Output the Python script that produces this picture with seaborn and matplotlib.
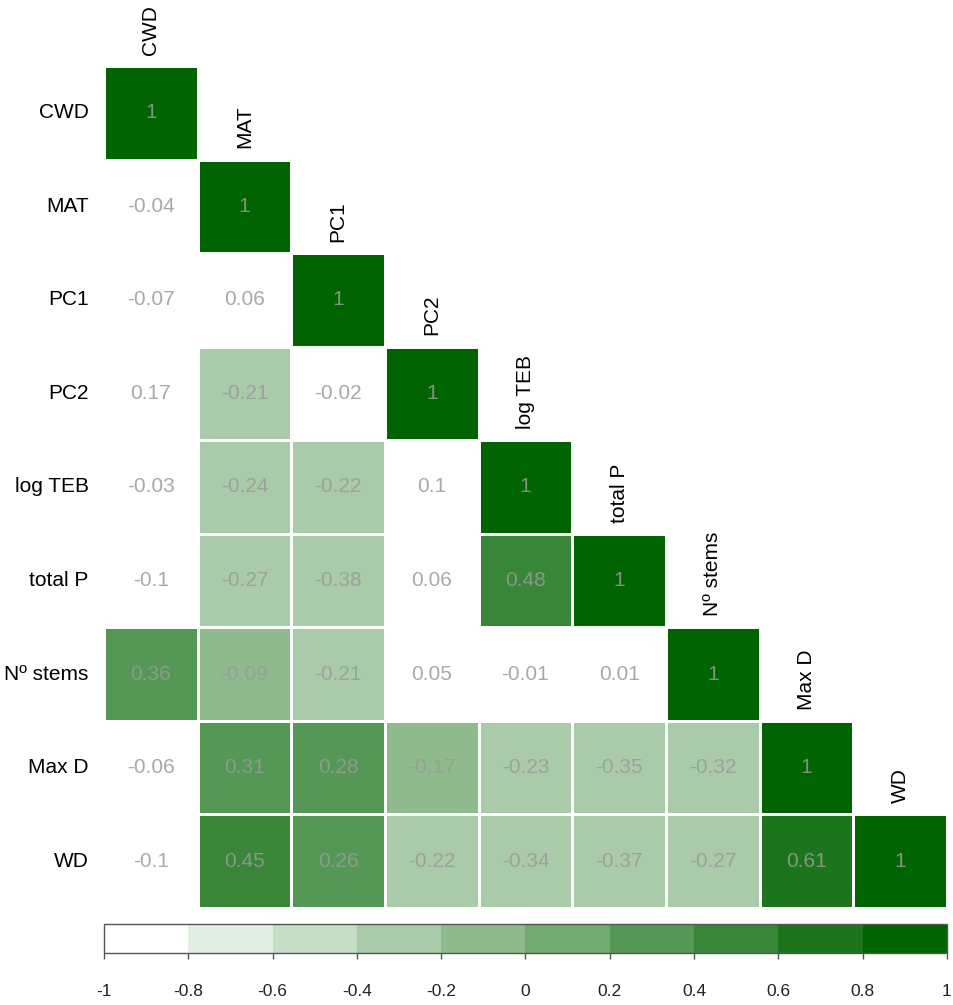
import numpy as np
import pandas as pd
import matplotlib
matplotlib.use("Agg")
import matplotlib.pyplot as plt
from matplotlib.colors import ListedColormap, to_rgb
import seaborn as sns

# Variables (rows/columns of the correlation matrix)
variables = ["CWD", "MAT", "PC1", "PC2", "log TEB", "total P", "Nº stems", "Max D", "WD"]

# Lower-triangle correlation coefficients, one list per row
row_cwd = [1]
row_mat = [-0.04, 1]
row_pc1 = [-0.07, 0.06, 1]
row_pc2 = [0.17, -0.21, -0.02, 1]
row_logteb = [-0.03, -0.24, -0.22, 0.1, 1]
row_totalp = [-0.1, -0.27, -0.38, 0.06, 0.48, 1]
row_nstems = [0.36, -0.09, -0.21, 0.05, -0.01, 0.01, 1]
row_maxd = [-0.06, 0.31, 0.28, -0.17, -0.23, -0.35, -0.32, 1]
row_wd = [-0.1, 0.45, 0.26, -0.22, -0.34, -0.37, -0.27, 0.61, 1]

# Significance flags (1 = significant, drawn with colour; 0 = left blank)
sig_cwd = [1]
sig_mat = [0, 1]
sig_pc1 = [0, 0, 1]
sig_pc2 = [0, 1, 0, 1]
sig_logteb = [0, 1, 1, 0, 1]
sig_totalp = [0, 1, 1, 0, 1, 1]
sig_nstems = [1, 1, 1, 0, 0, 0, 1]
sig_maxd = [0, 1, 1, 1, 1, 1, 1, 1]
sig_wd = [0, 1, 1, 1, 1, 1, 1, 1, 1]

rows = [row_cwd, row_mat, row_pc1, row_pc2, row_logteb, row_totalp,
        row_nstems, row_maxd, row_wd]
sigs = [sig_cwd, sig_mat, sig_pc1, sig_pc2, sig_logteb, sig_totalp,
        sig_nstems, sig_maxd, sig_wd]

n = len(variables)
corr = np.full((n, n), np.nan)
sig = np.zeros((n, n), dtype=bool)
for i, (r, s) in enumerate(zip(rows, sigs)):
    corr[i, :len(r)] = r
    sig[i, :len(s)] = np.array(s, dtype=bool)

corr_df = pd.DataFrame(corr, index=variables, columns=variables)
labels = np.vectorize(lambda v: "" if np.isnan(v) else f"{v:g}")(corr)

lower = np.tril(np.ones((n, n), dtype=bool))

# 10-step palette from white to dark green
white = np.array(to_rgb("white"))
dgreen = np.array(to_rgb("#006400"))
palette = [tuple(white + (dgreen - white) * k / 9) for k in range(10)]
cmap = ListedColormap(palette)

plt.rcParams["font.family"] = ["Liberation Sans", "DejaVu Sans"]

fig = plt.figure(figsize=(9.54, 10.05), dpi=100)
ax = fig.add_axes([104 / 954, 1 - 908 / 1005, 843 / 954, 842 / 1005])
cax = fig.add_axes([104 / 954, 1 - 953 / 1005, 843 / 954, 29 / 1005])

text_kws = {"color": "#9a9a9a", "alpha": 0.85, "fontsize": 15}

# Non-significant coefficients: value only, on white
sns.heatmap(corr_df, mask=~(lower & ~sig), cmap=ListedColormap(["white"]),
            vmin=-1, vmax=1, annot=labels, fmt="", annot_kws=text_kws,
            linewidths=0.8, linecolor="white", cbar=False, ax=ax)

# Significant coefficients: coloured cells with the discrete colour bar
sns.heatmap(corr_df, mask=~(lower & sig), cmap=cmap, vmin=-1, vmax=1,
            annot=labels, fmt="", annot_kws=text_kws,
            linewidths=0.8, linecolor="white", cbar=True, cbar_ax=cax,
            cbar_kws={"orientation": "horizontal",
                      "ticks": np.linspace(-1, 1, 11)},
            ax=ax)

# Row labels on the left
ax.set_yticks(np.arange(n) + 0.5)
ax.set_yticklabels(variables, rotation=0, fontsize=15, color="black")
ax.tick_params(axis="y", length=0, pad=11)
ax.set_xticks([])
ax.set_xlabel("")
ax.set_ylabel("")

# Column labels sit above each diagonal cell
for j, name in enumerate(variables):
    ax.text(j + 0.5, j - 0.12, name, rotation=90, ha="center", va="bottom",
            fontsize=15, color="black")

for s in ax.spines.values():
    s.set_visible(False)

# Colour bar styling
cb = ax.collections[-1].colorbar
cb.outline.set_linewidth(1.0)
cb.outline.set_edgecolor("#555555")
cb.set_ticks(np.linspace(-1, 1, 11))
cb.set_ticklabels([f"{t:g}" for t in np.round(np.linspace(-1, 1, 11), 1)])
cax.tick_params(axis="x", direction="out", length=4.5, width=1,
                color="#555555", pad=18, labelsize=12.5, labelcolor="#222222")

fig.savefig("out.png", dpi=100)
